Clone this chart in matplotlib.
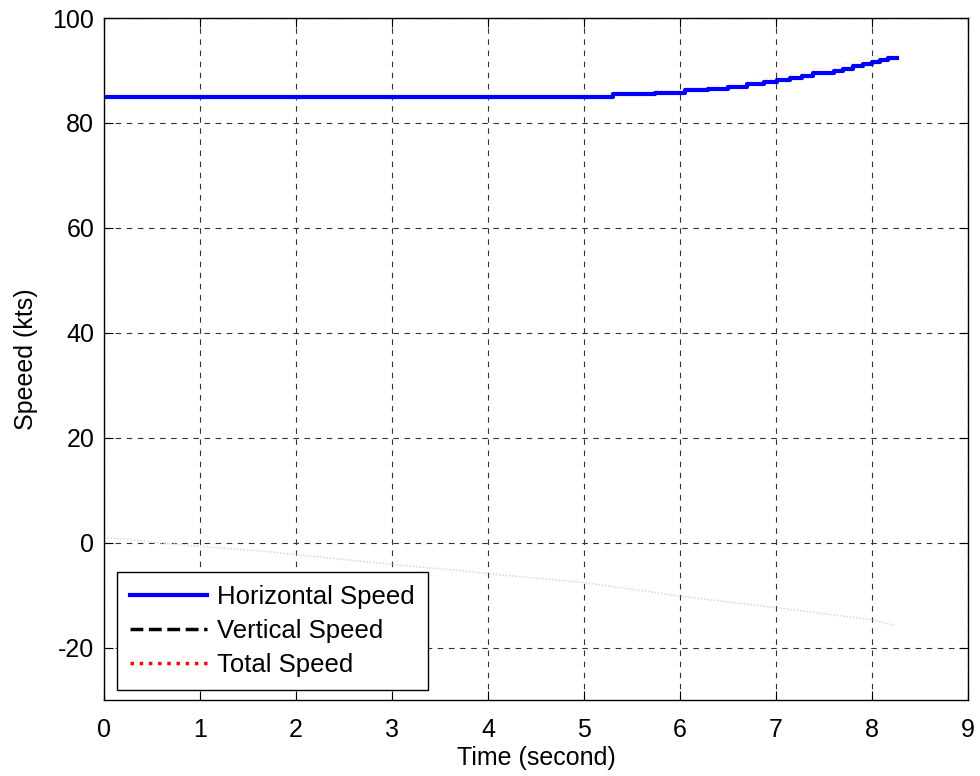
import numpy as np
import matplotlib
matplotlib.use('Agg')
import matplotlib.pyplot as plt
from matplotlib.lines import Line2D

plt.rcParams['font.family'] = ['Liberation Sans', 'DejaVu Sans']
plt.rcParams['axes.unicode_minus'] = False

# horizontal speed (step-wise), kts
t_horiz = [0.0, 5.30, 5.74, 6.05, 6.29, 6.50, 6.70, 6.87, 7.01, 7.15, 7.27, 7.39,
           7.60, 7.70, 7.80, 7.91, 8.00, 8.08, 8.17, 8.26]
v_horiz = [85.0, 85.5, 85.8, 86.3, 86.5, 86.9, 87.4, 87.8, 88.2, 88.6, 89.0, 89.5,
           89.9, 90.3, 90.8, 91.2, 91.6, 92.0, 92.3, 92.4]

# vertical speed (faint in the original), kts
t_vert = [0.0, 0.8, 1.7, 2.7, 3.8, 4.1, 5.0, 6.0, 7.0, 8.0, 8.24]
v_vert = [1.0, -0.4, -1.7, -3.6, -5.5, -6.1, -7.6, -10.2, -12.4, -14.7, -15.8]

xticks = [0, 1, 2, 3, 4, 5, 6, 7, 8, 9]
yticks = [-20, 0, 20, 40, 60, 80, 100]

fig = plt.figure(figsize=(9.8, 7.76), dpi=100)
ax = fig.add_axes([0.1061, 0.0979, 0.8817, 0.8789])

# total speed from the two components
v_vert_i = np.interp(t_horiz, t_vert, v_vert)
v_total = np.sqrt(np.array(v_horiz) ** 2 + v_vert_i ** 2)

ax.plot(t_vert, v_vert, color='#dcdcdc', linestyle=(0, (1, 1)), linewidth=1.2)
ax.plot(t_horiz, v_total, color='red', linestyle=':', linewidth=1.0, alpha=0.12,
        drawstyle='steps-post')
ax.plot(t_horiz, v_horiz, color='blue', linewidth=3, drawstyle='steps-post')

ax.set_xlim(0, 9)
ax.set_ylim(-30, 100)
ax.set_xticks(xticks)
ax.set_yticks(yticks)
ax.tick_params(direction='in', top=True, right=True, labelsize=18, length=6.5,
               width=0.8)
ax.tick_params(axis='x', pad=13)
ax.tick_params(axis='y', pad=7)
ax.grid(True, color='#333333', linestyle=(0, (5, 5)), linewidth=0.8)
for s in ax.spines.values():
    s.set_linewidth(1.0)

ax.set_xlabel('Time (second)', fontsize=18, labelpad=3)
ax.set_ylabel('Speeed (kts)', fontsize=18, labelpad=10)

handles = [Line2D([], [], color='blue', linewidth=3),
           Line2D([], [], color='black', linestyle='--', linewidth=2.5),
           Line2D([], [], color='red', linestyle=':', linewidth=2.5)]
leg = ax.legend(handles, ['Horizontal Speed', 'Vertical Speed', 'Total Speed'],
                loc='lower left', bbox_to_anchor=(0.015, 0.0147), fontsize=18.5,
                fancybox=False, edgecolor='black', framealpha=1,
                handlelength=3.0, handletextpad=0.4, borderpad=0.5,
                borderaxespad=0, labelspacing=0.4)
leg.get_frame().set_linewidth(1.0)

fig.savefig('out.png', dpi=100)
